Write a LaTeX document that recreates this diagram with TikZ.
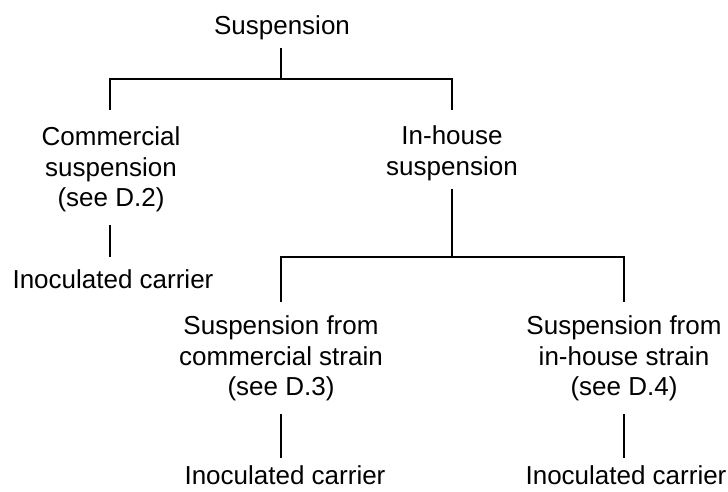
\documentclass[tikz,border=0pt]{standalone}
\usepackage{fontspec}
\setmainfont{Liberation Sans}
\begin{document}
\begin{tikzpicture}[x=1pt,y=-1pt,
  lbl/.style={inner sep=0pt, outer sep=0pt, anchor=north, align=center,
    font=\fontsize{26}{30.5}\selectfont},
  conn/.style={line width=1.6pt}]
\useasboundingbox (0,0) rectangle (728,492);
% nodes (north = first baseline - 19)
\node[lbl] (root) at (282,16) {Suspension};
\node[lbl] (com)  at (111,127) {Commercial\\suspension\\(see D.2)};
\node[lbl] (inh)  at (452,126) {In-house\\suspension};
\node[lbl] (ic1)  at (113,270) {Inoculated carrier};
\node[lbl] (scs)  at (281,316) {Suspension from\\commercial strain\\(see D.3)};
\node[lbl] (sis)  at (624,316) {Suspension from\\in-house strain\\(see D.4)};
\node[lbl] (ic2)  at (285,466) {Inoculated carrier};
\node[lbl] (ic3)  at (626,466) {Inoculated carrier};
% junctions
\coordinate (j0) at (281,79);
\coordinate (j1) at (452,257);
% connectors
\draw[conn] ([xshift=-1pt,yshift=-8pt]root.south) -- (j0);
\draw[conn] ([xshift=-1pt,yshift=17pt]com.north) |- (j0) -| ([yshift=16pt]inh.north);
\draw[conn] ([xshift=-1pt,yshift=-13pt]com.south) -- ([xshift=-3pt,yshift=13pt]ic1.north);
\draw[conn] ([yshift=-8pt]inh.south) -- (j1);
\draw[conn] ([yshift=14pt]scs.north) |- (j1) -| ([yshift=14pt]sis.north);
\draw[conn] ([yshift=-13pt]scs.south) -- ([xshift=-4pt,yshift=8pt]ic2.north);
\draw[conn] ([yshift=-13pt]sis.south) -- ([xshift=-2pt,yshift=8pt]ic3.north);
\end{tikzpicture}
\end{document}
